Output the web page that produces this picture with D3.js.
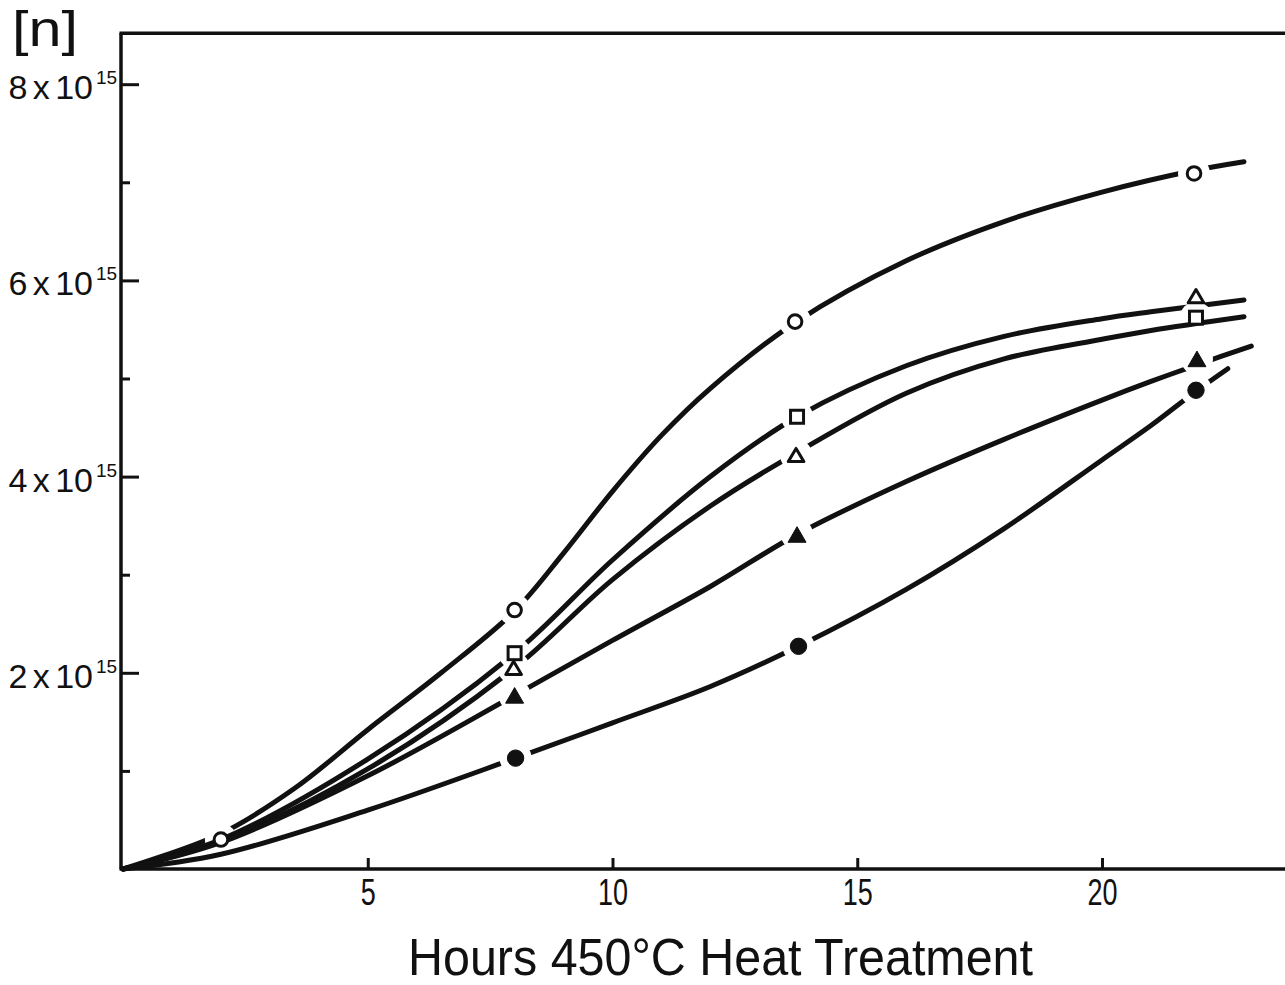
<!DOCTYPE html>
<html>
<head>
<meta charset="utf-8">
<script src="https://cdn.jsdelivr.net/npm/d3@7"></script>
<style>
  html, body { margin: 0; padding: 0; background: #fff; }
  svg { display: block; }
  text { font-family: "Liberation Sans", "DejaVu Sans Condensed", Arial, sans-serif; fill: #111; }
</style>
</head>
<body>
<svg id="chart" width="1285" height="985"></svg>
<script>
// ---- Data (hours of 450°C heat treatment, [n] in units of 1e15) ----
const xTickValues = [5, 10, 15, 20];
const xTickLabels = ["5", "10", "15", "20"];
const yMajorTicks = [2, 4, 6, 8];
const yMajorLabels = ["2", "4", "6", "8"];
const yMinorTicks = [1, 3, 5, 7];

// marker points
const openCircleHours = [2.0, 8.0, 13.73, 21.88];
const openCircleValues = [0.30, 2.64, 5.58, 7.09];
const openSquareHours = [8.0, 13.77, 21.92];
const openSquareValues = [2.20, 4.61, 5.62];
const openTriangleHours = [7.98, 13.75, 21.92];
const openTriangleValues = [2.05, 4.22, 5.84];
const filledTriangleHours = [8.0, 13.77, 21.94];
const filledTriangleValues = [1.77, 3.41, 5.20];
const filledCircleHours = [8.02, 13.8, 21.92];
const filledCircleValues = [1.13, 2.27, 4.88];

// drawn (hand-fitted) curves
const openCircleCurveHours = [0, 2, 3.5, 5, 6.5, 8, 9, 10, 11, 12, 13.73, 16, 18, 20, 21.88, 22.9];
const openCircleCurveValues = [0, 0.36, 0.82, 1.42, 2.0, 2.63, 3.22, 3.85, 4.42, 4.9, 5.57, 6.2, 6.6, 6.9, 7.12, 7.21];
const openSquareCurveHours = [0, 2, 5, 8, 10, 12, 13.77, 16, 18, 20, 21, 22.9];
const openSquareCurveValues = [0, 0.3, 1.12, 2.2, 3.15, 4.0, 4.61, 5.13, 5.43, 5.61, 5.68, 5.8];
const openTriangleCurveHours = [0, 2, 5, 8, 10, 12, 13.75, 16, 18, 20, 21, 22.9];
const openTriangleCurveValues = [0, 0.28, 1.02, 2.05, 2.95, 3.7, 4.24, 4.85, 5.2, 5.4, 5.49, 5.63];
const filledTriangleCurveHours = [0, 2, 5, 8, 10, 12, 13.77, 16, 18, 20, 21, 22.0, 23.05];
const filledTriangleCurveValues = [0, 0.27, 0.95, 1.77, 2.33, 2.88, 3.41, 3.95, 4.38, 4.78, 4.97, 5.15, 5.33];
const filledCircleCurveHours = [0, 2, 5, 8.02, 10, 12, 13.8, 16, 18, 20, 21, 21.92, 22.57];
const filledCircleCurveValues = [0, 0.15, 0.6, 1.13, 1.49, 1.86, 2.27, 2.85, 3.47, 4.17, 4.52, 4.87, 5.1];

const series = [
  { name: "openCircle", shape: "circle", fill: false, hours: openCircleHours, values: openCircleValues, ch: openCircleCurveHours, cv: openCircleCurveValues },
  { name: "openSquare", shape: "square", fill: false, hours: openSquareHours, values: openSquareValues, ch: openSquareCurveHours, cv: openSquareCurveValues },
  { name: "openTriangle", shape: "triangle", fill: false, hours: openTriangleHours, values: openTriangleValues, ch: openTriangleCurveHours, cv: openTriangleCurveValues },
  { name: "filledTriangle", shape: "triangle", fill: true, hours: filledTriangleHours, values: filledTriangleValues, ch: filledTriangleCurveHours, cv: filledTriangleCurveValues },
  { name: "filledCircle", shape: "circle", fill: true, hours: filledCircleHours, values: filledCircleValues, ch: filledCircleCurveHours, cv: filledCircleCurveValues }
];

// ---- Layout ----
const W = 1285, H = 985;
const x0 = 123, pxPerHour = 48.95;
const y0 = 869, pxPerUnit = 98.1;
const x = d3.scaleLinear().domain([0, 24]).range([x0, x0 + 24 * pxPerHour]);
const y = d3.scaleLinear().domain([0, 8.52]).range([y0, y0 - 8.52 * pxPerUnit]);

const svg = d3.select("#chart");
const ink = "#111";

// frame: left, top, bottom lines (open to the right)
const axisX = 121;
svg.append("line").attr("x1", axisX).attr("x2", axisX).attr("y1", y(8.52)).attr("y2", y(0))
  .attr("stroke", ink).attr("stroke-width", 3.5);
svg.append("line").attr("x1", axisX - 1.5).attr("x2", W).attr("y1", y(8.52)).attr("y2", y(8.52))
  .attr("stroke", ink).attr("stroke-width", 3.5);
svg.append("line").attr("x1", axisX - 1.5).attr("x2", W).attr("y1", y(0)).attr("y2", y(0))
  .attr("stroke", ink).attr("stroke-width", 3.5);

// x axis ticks (pointing up into plot)
const xAxis = d3.axisBottom(x).tickValues(xTickValues)
  .tickFormat((d, i) => xTickLabels[i]).tickSizeInner(-11).tickSizeOuter(0).tickPadding(10);
const gx = svg.append("g").attr("transform", `translate(0,${y(0)})`).call(xAxis);
gx.select(".domain").remove();
gx.selectAll(".tick line").attr("stroke", ink).attr("stroke-width", 3);
gx.selectAll(".tick text").attr("font-size", 36).attr("fill", ink)
  .attr("font-family", "'Liberation Sans', 'DejaVu Sans Condensed', sans-serif")
  .attr("textLength", (d, i) => xTickLabels[i].length * 15)
  .attr("lengthAdjust", "spacingAndGlyphs");

// y axis major and minor ticks (pointing right into plot)
const yAxisMajor = d3.axisLeft(y).tickValues(yMajorTicks).tickFormat("").tickSizeInner(-18).tickSizeOuter(0);
const gy = svg.append("g").attr("transform", `translate(${axisX},0)`).call(yAxisMajor);
gy.select(".domain").remove();
gy.selectAll(".tick line").attr("stroke", ink).attr("stroke-width", 3);
const yAxisMinor = d3.axisLeft(y).tickValues(yMinorTicks).tickFormat("").tickSizeInner(-9).tickSizeOuter(0);
const gy2 = svg.append("g").attr("transform", `translate(${axisX},0)`).call(yAxisMinor);
gy2.select(".domain").remove();
gy2.selectAll(".tick line").attr("stroke", ink).attr("stroke-width", 3);

// y labels: "N x 10" with a separate superscript "15"
yMajorTicks.forEach((v, i) => {
  svg.append("text").attr("x", 93).attr("y", y(v) + 15)
    .attr("text-anchor", "end").attr("font-size", 34).attr("word-spacing", -4)
    .text(yMajorLabels[i] + " x 10");
  svg.append("text").attr("x", 96).attr("y", y(v))
    .attr("font-size", 19).text("15");
});

// "[n]" label
svg.append("text").attr("x", 12).attr("y", 46).attr("font-size", 50)
  .attr("textLength", 66).attr("lengthAdjust", "spacingAndGlyphs").text("[n]");

// axis title
svg.append("text").attr("x", 408).attr("y", 975)
  .attr("font-size", 52).attr("textLength", 625).attr("lengthAdjust", "spacingAndGlyphs")
  .text("Hours 450\u00B0C  Heat  Treatment");

// ---- Curves with gaps around their markers ----
const defs = svg.append("defs");
const line = d3.line().x(d => x(d[0])).y(d => y(d[1])).curve(d3.curveCatmullRom.alpha(0.5));

series.forEach(s => {
  const m = defs.append("mask").attr("id", "mask-" + s.name)
    .attr("maskUnits", "userSpaceOnUse").attr("x", 0).attr("y", 0).attr("width", W).attr("height", H);
  m.append("rect").attr("x", 0).attr("y", 0).attr("width", W).attr("height", H).attr("fill", "#fff");
  s.hours.forEach((h, i) => {
    m.append("circle").attr("cx", x(h)).attr("cy", y(s.values[i])).attr("r", 16).attr("fill", "#000");
  });
  const pts = s.ch.map((h, i) => [h, s.cv[i]]);
  svg.append("path").datum(pts).attr("d", line)
    .attr("fill", "none").attr("stroke", ink).attr("stroke-width", 5)
    .attr("stroke-linecap", "round").attr("mask", `url(#mask-${s.name})`);
});

// ---- Markers ----
series.forEach(s => {
  const g = svg.append("g");
  s.hours.forEach((h, i) => {
    const cx = x(h), cy = y(s.values[i]);
    const fill = s.fill ? ink : "#fff";
    const sw = s.fill ? 1 : 3;
    if (s.shape === "circle") {
      g.append("circle").attr("cx", cx).attr("cy", cy).attr("r", s.fill ? 8.2 : 6.8)
        .attr("fill", fill).attr("stroke", ink).attr("stroke-width", sw);
    } else if (s.shape === "square") {
      g.append("rect").attr("x", cx - 6.5).attr("y", cy - 6.5).attr("width", 13).attr("height", 13)
        .attr("fill", fill).attr("stroke", ink).attr("stroke-width", sw);
    } else {
      const hw = s.fill ? 9 : 7.8, hh = s.fill ? 7.8 : 6.6;
      g.append("path").attr("d", `M${cx},${cy - hh}L${cx + hw},${cy + hh}L${cx - hw},${cy + hh}Z`)
        .attr("fill", fill).attr("stroke", ink).attr("stroke-width", sw).attr("stroke-linejoin", "round");
    }
  });
});
</script>
</body>
</html>
